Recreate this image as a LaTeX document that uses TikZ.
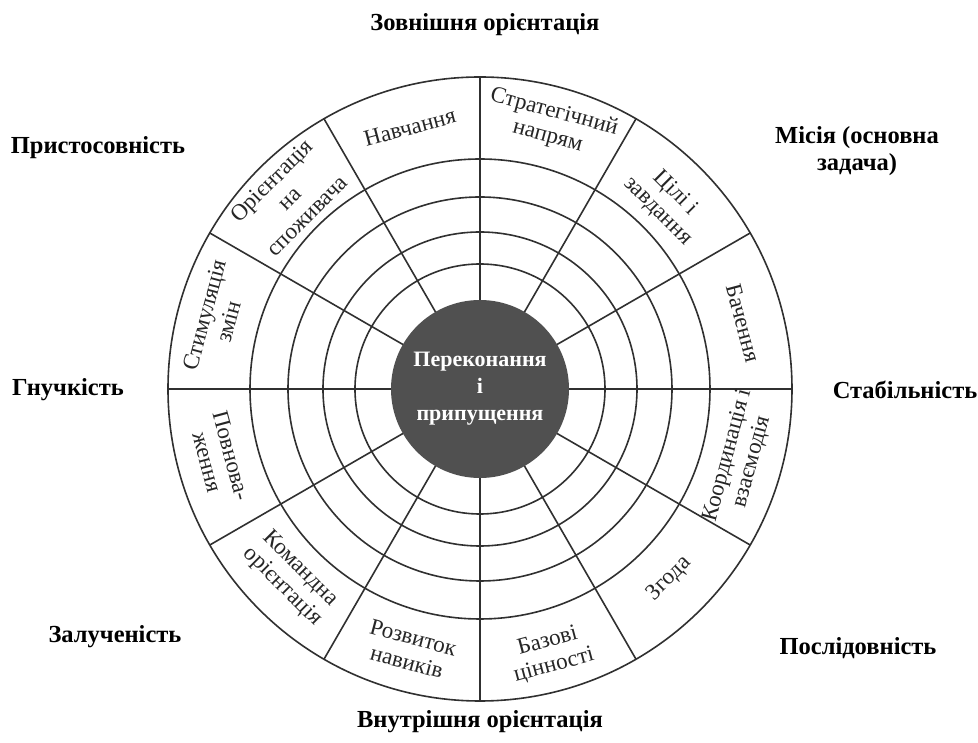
\documentclass[tikz,border=0pt]{standalone}
\usepackage{fontspec}
\setmainfont{Liberation Serif}
\definecolor{linec}{HTML}{303030}
\definecolor{hubc}{HTML}{505050}
\begin{document}
\begin{tikzpicture}[x=1pt,y=1pt,
  ringline/.style={draw=linec, line width=1.6pt},
  spoke/.style={draw=linec, line width=1.6pt},
  seg/.style={font=\fontsize{23}{25}\selectfont, align=center, text=black!85, inner sep=0pt},
  outerlab/.style={font=\bfseries\fontsize{24.5}{27}\selectfont, align=center, inner sep=0pt},
  hubtext/.style={font=\bfseries\fontsize{22}{27}\selectfont, align=center, text=white, inner sep=0pt},
]
\useasboundingbox (-480,-354) rectangle (498,389);
\fill[white] (-480,-354) rectangle (498,389);

\coordinate (c) at (0,0);
% spokes
\foreach \a in {0,30,...,330} {
  \draw[spoke] (c) -- (\a:312);
}
% rings
\foreach \r in {312,230,192,157,125} {
  \draw[ringline] (c) circle (\r);
}
% hub
\fill[hubc] (c) circle (89);
\node[hubtext] (hub) at (0,0) {Переконання\\і\\припущення};

% segment labels
\node[seg, rotate=15]  (s1)  at (105:271) {Навчання};
\node[seg, rotate=-15] (s2)  at (75:274)  {Стратегічний\\напрям};
\node[seg, rotate=-45] (s3)  at (45:264)  {Цілі і\\завдання};
\node[seg, rotate=-75] (s4)  at (14:271)  {Бачення};
\node[seg, rotate=75]  (s5)  at (-15:269) {Координація і\\взаємодія};
\node[seg, rotate=45]  (s6)  at (-45:268) {Згода};
\node[seg, rotate=15]  (s7)  at (-75:274) {Базові\\цінності};
\node[seg, rotate=-15] (s8)  at (-105:270) {Розвиток\\навиків};
\node[seg, rotate=-45] (s9)  at (-135:267) {Командна\\орієнтація};
\node[seg, rotate=-75] (s10) at (-165:270) {Повнова-\\ження};
\node[seg, rotate=75]  (s11) at (165:273)  {Стимуляція\\змін};
\node[seg, rotate=45]  (s12) at (135:270)  {Орієнтація\\на\\споживача};

% outer labels
\node[outerlab] (top)  at (5,364)     {Зовнішня орієнтація};
\node[outerlab] (ul)   at (-382,241)  {Пристосовність};
\node[outerlab] (ur)   at (377,238)   {Місія (основна\\задача)};
\node[outerlab] (lft)  at (-412,-1)   {Гнучкість};
\node[outerlab] (rgt)  at (425,-1)    {Стабільність};
\node[outerlab] (ll)   at (-365,-248) {Залученість};
\node[outerlab] (lr)   at (378,-259)  {Послідовність};
\node[outerlab] (bot)  at (0,-333)    {Внутрішня орієнтація};
\end{tikzpicture}
\end{document}
